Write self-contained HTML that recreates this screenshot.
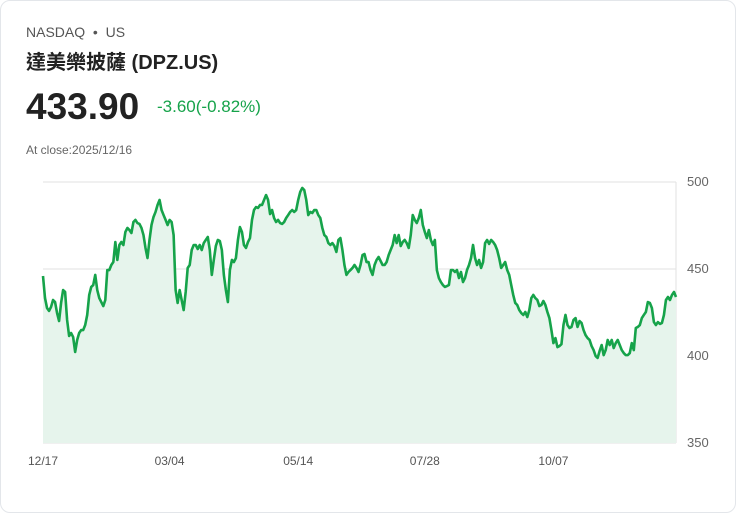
<!DOCTYPE html>
<html><head><meta charset="utf-8">
<style>
body{margin:0;background:#fff;font-family:"Liberation Sans","Noto Sans CJK TC",sans-serif;}
.card{position:absolute;left:0;top:0;width:734px;height:511px;border:1px solid #e3e6ea;border-radius:10px;background:#fff;}
.t{position:absolute;white-space:nowrap;}
</style></head><body>
<div class="card">
<div class="t" style="left:25px;top:23px;font-size:14px;color:#555;">NASDAQ &nbsp;•&nbsp; US</div>
<div class="t" style="left:25px;top:45px;font-size:20px;font-weight:bold;color:#222;">達美樂披薩 (DPZ.US)</div>
<div class="t" style="left:25px;top:85px;font-size:37px;font-weight:bold;color:#222;">433.90</div>
<div class="t" style="left:156px;top:96px;font-size:17px;color:#16a34a;">-3.60(-0.82%)</div>
<div class="t" style="left:25px;top:142px;font-size:12px;color:#666;">At close:2025/12/16</div>
<svg id="chart" width="736" height="513" style="position:absolute;left:-1px;top:-1px;"></svg>
</div>
<script>
const values=[446.0,433.3,427.6,425.9,428.2,432.2,431.0,424.7,420.1,430.5,437.9,436.8,420.7,411.5,413.2,410.9,402.3,409.2,413.2,414.9,414.9,417.8,423.6,435.1,439.7,440.8,446.6,437.9,433.3,431.0,428.7,432.2,449.4,449.4,452.3,454.0,465.5,455.2,463.8,465.5,463.8,471.3,473.6,472.4,470.7,477.0,478.2,476.4,475.9,473.6,469.5,462.1,456.3,466.7,475.3,479.9,482.8,486.8,489.7,483.9,481.0,478.2,475.3,478.2,477.0,469.5,437.9,430.5,437.9,432.2,426.4,436.8,450.6,452.3,460.9,463.8,463.8,461.5,463.8,460.9,464.9,466.7,468.4,460.9,446.6,455.2,463.2,466.7,466.1,460.9,446.6,437.9,431.0,449.4,455.2,454.0,456.3,466.7,474.1,471.3,463.8,462.1,465.5,467.8,478.2,483.9,485.6,485.1,486.8,486.8,489.7,492.5,489.7,481.6,483.9,479.3,477.0,478.2,476.4,475.9,477.0,479.3,481.0,482.8,483.9,482.8,483.9,489.7,494.3,496.6,495.4,489.7,481.0,482.8,482.2,483.9,483.9,481.0,479.3,473.6,469.5,468.4,464.9,463.8,464.9,463.2,459.8,466.7,467.8,460.9,452.3,446.6,448.3,449.4,450.6,452.3,450.6,448.3,452.3,458.0,458.6,454.0,454.0,449.4,446.6,452.3,455.2,456.9,454.6,452.3,452.3,454.0,458.0,460.9,463.8,469.5,464.9,469.5,463.2,465.5,466.7,464.9,462.1,469.5,481.0,478.2,476.4,479.3,483.9,475.3,471.3,467.8,472.4,466.7,463.8,466.7,449.4,444.8,442.5,440.8,439.7,440.2,440.8,449.4,449.4,448.3,449.4,444.8,448.3,442.5,444.8,449.4,452.3,456.3,463.8,456.3,452.3,455.2,450.6,454.0,464.9,466.7,464.4,466.7,465.5,463.8,460.9,456.3,450.6,452.3,454.0,449.4,446.6,440.8,435.1,430.5,429.3,426.4,424.7,423.6,425.3,422.4,426.4,433.3,435.1,433.3,432.2,428.7,429.3,431.6,429.3,425.3,421.8,414.9,407.4,410.3,405.1,405.7,406.8,417.8,423.6,417.8,416.1,416.7,420.7,421.8,416.7,420.1,419.0,414.9,412.0,410.3,409.2,405.7,403.4,400.0,398.9,402.9,406.3,400.5,403.4,409.2,406.3,409.2,404.6,407.4,409.2,406.3,403.4,401.7,400.5,400.5,401.7,407.4,403.4,416.1,416.7,417.8,421.8,423.6,425.3,431.0,430.5,427.6,419.5,417.8,419.5,418.4,419.0,423.6,432.2,433.9,432.2,435.1,436.8,433.9];
const yTicks=[350,400,450,500];
const xTickLabels=["12/17","03/04","05/14","07/28","10/07"];
const xTickIndex=[0,63,127,190,254];

const svg=document.getElementById('chart');
const NS='http://www.w3.org/2000/svg';
const L=43,R=676,T=182,B=443,vMin=350,vMax=500;
const xs=i=>L+i*(R-L)/(values.length-1);
const ys=v=>B-(v-vMin)*(B-T)/(vMax-vMin);
function mk(tag,attrs){const e=document.createElementNS(NS,tag);for(const k in attrs)e.setAttribute(k,attrs[k]);svg.appendChild(e);return e;}
yTicks.forEach(v=>{
  const g=mk('line',{x1:L,x2:R,y1:ys(v),y2:ys(v),stroke:'#e2e2e2','stroke-width':1});
  
  
  const t=mk('text',{x:687,y:ys(v)+4,'font-size':13,fill:'#666','font-family':'Liberation Sans, sans-serif'});
  t.textContent=v;
  
  
});
const ax=mk('line',{x1:R,x2:R,y1:T,y2:B,stroke:'#e2e2e2','stroke-width':1});


let d='';values.forEach((v,i)=>{d+=(i?'L':'M')+xs(i).toFixed(2)+' '+ys(v).toFixed(2);});
const area=mk('path',{d:d+'L'+R+' '+B+'L'+L+' '+B+'Z',fill:'#e6f4ec'});


const line=mk('path',{d:d,fill:'none',stroke:'#16a34a','stroke-width':2.6,'stroke-linejoin':'round'});


xTickLabels.forEach((lab,k)=>{
  const t=mk('text',{x:xs(xTickIndex[k]),y:465,'font-size':12,fill:'#555','text-anchor':'middle','font-family':'Liberation Sans, sans-serif'});
  t.textContent=lab;
  
  
});
</script>
</body></html>
